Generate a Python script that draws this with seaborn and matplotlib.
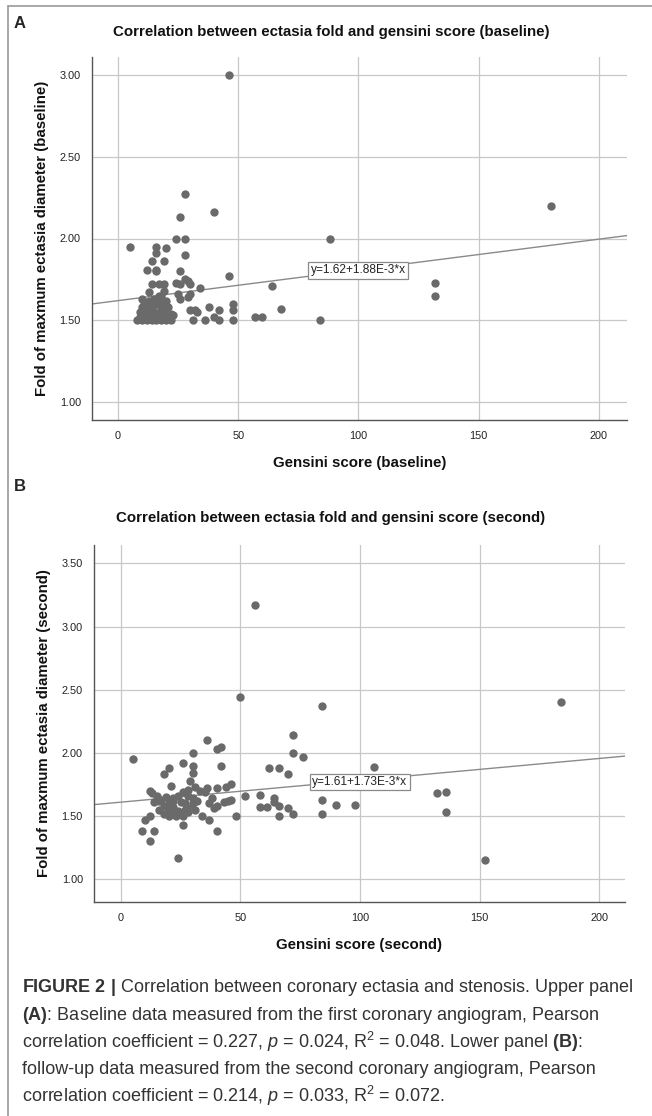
import numpy as np
import pandas as pd
import matplotlib
matplotlib.use("Agg")
import matplotlib.pyplot as plt
import seaborn as sns

# ---------------------------
# Datos
# ---------------------------
gensini_base = [46, 28, 26, 40, 5, 16, 16, 20, 24, 28, 28, 14, 19, 12, 16, 16, 26, 28, 29, 24,
                26, 30, 14, 17, 19, 34, 46, 88, 64, 68, 57, 60, 84, 180, 132, 132, 48, 48, 48, 42,
                42, 38, 40, 36, 31, 32, 30, 33, 29, 26, 25, 13, 10, 19, 18, 30,
                8, 9, 10, 10, 10, 11, 11, 12, 12, 13, 13, 14, 14, 15, 15, 16, 16, 17, 17, 18,
                18, 19, 19, 20, 20, 21, 22, 22, 23, 21, 9, 12, 15, 17, 20]
fold_base = [3.00, 2.27, 2.13, 2.16, 1.95, 1.95, 1.91, 1.94, 2.00, 2.00, 1.90, 1.86, 1.86, 1.81, 1.81,
             1.80, 1.80, 1.75, 1.74, 1.73, 1.72, 1.72, 1.72, 1.72, 1.72, 1.70, 1.77, 2.00, 1.71, 1.57,
             1.52, 1.52, 1.50, 2.20, 1.73, 1.65, 1.60, 1.56, 1.50, 1.56, 1.50, 1.58, 1.52, 1.50, 1.50,
             1.56, 1.56, 1.55, 1.64, 1.63, 1.66, 1.67, 1.63, 1.68, 1.65, 1.66,
             1.50, 1.52, 1.50, 1.55, 1.58, 1.60, 1.52, 1.50, 1.56, 1.53, 1.62, 1.50, 1.58, 1.55, 1.52,
             1.50, 1.60, 1.54, 1.62, 1.50, 1.57, 1.52, 1.60, 1.50, 1.55, 1.52, 1.50, 1.54, 1.53, 1.58,
             1.55, 1.60, 1.63, 1.65, 1.62]

gensini_second = [5, 36, 40, 42, 30, 26, 30, 42, 20, 18, 30, 29, 21, 31, 40, 44, 46, 36, 26, 28,
                  24, 12, 15, 19, 13, 17, 22, 14, 20,
                  52, 58, 64, 64, 66, 58, 61, 70, 72, 66, 48, 84, 84, 90, 98, 132, 136, 136, 152, 106,
                  184, 84, 50, 56, 72, 72, 76, 62, 66, 70,
                  24, 12, 9, 14, 10, 12, 26, 37, 40,
                  43, 45, 46, 37, 38, 39, 40, 33, 35,
                  16, 18, 18, 20, 20, 21, 22, 23, 24, 25, 26, 27, 28, 29, 30, 31, 32, 34, 27, 16,
                  22, 25, 28, 30]
fold_second = [1.95, 2.10, 2.03, 2.05, 2.00, 1.92, 1.90, 1.90, 1.88, 1.83, 1.84, 1.78, 1.74, 1.73, 1.72,
               1.73, 1.75, 1.72, 1.69, 1.71, 1.66, 1.70, 1.66, 1.65, 1.68, 1.63, 1.62, 1.61, 1.60,
               1.66, 1.67, 1.64, 1.61, 1.58, 1.57, 1.57, 1.56, 1.52, 1.50, 1.50, 1.63, 1.52, 1.59, 1.59,
               1.68, 1.69, 1.53, 1.15, 1.89, 2.40, 2.37, 2.44, 3.17, 2.14, 2.00, 1.97, 1.88, 1.88, 1.83,
               1.17, 1.30, 1.38, 1.38, 1.47, 1.50, 1.43, 1.47, 1.38,
               1.61, 1.62, 1.63, 1.60, 1.64, 1.56, 1.58, 1.70, 1.69,
               1.55, 1.52, 1.58, 1.50, 1.55, 1.53, 1.57, 1.50, 1.54, 1.52, 1.50, 1.55, 1.53, 1.56,
               1.60, 1.55, 1.62, 1.50, 1.60, 1.62, 1.64, 1.61, 1.66, 1.64]

# rectas de ajuste indicadas en la figura
fit_base = (1.62, 1.88e-3)
fit_second = (1.61, 1.73e-3)
fit_label_base = "y=1.62+1.88E-3*x"
fit_label_second = "y=1.61+1.73E-3*x"

x_ticks = [0, 50, 100, 150, 200]
y_ticks_base = [1.00, 1.50, 2.00, 2.50, 3.00]
y_ticks_second = [1.00, 1.50, 2.00, 2.50, 3.00, 3.50]

sns.set_style("white")
plt.rcParams['font.family'] = ['Liberation Sans', 'DejaVu Sans']
plt.rcParams['mathtext.fontset'] = 'custom'
plt.rcParams['mathtext.rm'] = 'Liberation Sans'
plt.rcParams['mathtext.it'] = 'Liberation Sans:italic'
plt.rcParams['mathtext.bf'] = 'Liberation Sans:bold'

fig = plt.figure(figsize=(6.52, 11.16), dpi=100)

W, H = 652, 1116


def px_axes(left, top, right, bottom):
    return fig.add_axes([left / W, 1 - bottom / H, (right - left) / W, (bottom - top) / H])


def panel(ax, x, y, fit, label, label_pos, xlim, ylim, yticks, xlabel, ylabel):
    df = pd.DataFrame({'x': x, 'y': y})
    sns.scatterplot(data=df, x='x', y='y', ax=ax, color='#6a6a6a', s=36, linewidth=0, zorder=3)
    ax.axline((0, fit[0]), slope=fit[1], color='#8a8a8a', lw=1.0, zorder=2)
    ax.text(label_pos[0], label_pos[1], label, fontsize=8.6, ha='center', va='center', color='#222',
            bbox=dict(boxstyle='square,pad=0.2', fc='white', ec='#8a8a8a', lw=0.9), zorder=4)
    ax.set_xlim(*xlim)
    ax.set_ylim(*ylim)
    ax.set_xticks(x_ticks)
    ax.set_yticks(yticks)
    ax.set_yticklabels([f"{v:.2f}" for v in yticks])
    ax.grid(True, color='#c8c8c8', lw=0.9)
    ax.set_axisbelow(True)
    for s in ['top', 'right']:
        ax.spines[s].set_visible(False)
    for s in ['left', 'bottom']:
        ax.spines[s].set_color('#555555')
        ax.spines[s].set_linewidth(1.0)
    ax.tick_params(length=0, labelsize=7.8, colors='#222', pad=8)
    ax.set_xlabel(xlabel, fontsize=10.8, fontweight='bold', color='#111', labelpad=11)
    ax.set_ylabel(ylabel, fontsize=10.8, fontweight='bold', color='#111', labelpad=8)


ax1 = px_axes(92, 57, 627, 420)
panel(ax1, gensini_base, fold_base, fit_base, fit_label_base, (100, 1.806),
      (-10.8, 211.7), (0.89, 3.11), y_ticks_base,
      "Gensini score (baseline)", "Fold of maxmum ectasia diameter (baseline)")

ax2 = px_axes(94, 545, 625, 902)
panel(ax2, gensini_second, fold_second, fit_second, fit_label_second, (99.8, 1.77),
      (-11.2, 210.7), (0.82, 3.645), y_ticks_second,
      "Gensini score (second)", "Fold of maxmum ectasia diameter (second)")

fig.text(331 / W, 1 - 32 / H, "Correlation between ectasia fold and gensini score (baseline)",
         fontsize=10.8, fontweight='bold', color='#111', ha='center', va='center')
fig.text(331 / W, 1 - 518 / H, "Correlation between ectasia fold and gensini score (second)",
         fontsize=10.8, fontweight='bold', color='#111', ha='center', va='center')

fig.text(14 / W, 1 - 24 / H, "A", fontsize=12, fontweight='bold', va='center')
fig.text(14 / W, 1 - 486 / H, "B", fontsize=12, fontweight='bold', va='center')

# marco
fig.add_artist(plt.Line2D([8 / W, 1], [1 - 6 / H, 1 - 6 / H], color='#999', lw=1.2))
fig.add_artist(plt.Line2D([8 / W, 8 / W], [0, 1 - 6 / H], color='#999', lw=1.2))

caption = [
    r"$\mathbf{FIGURE\ 2\ |}$ Correlation between coronary ectasia and stenosis. Upper panel",
    r"$\mathbf{(A)}$: Baseline data measured from the first coronary angiogram, Pearson",
    r"correlation coefficient = 0.227, $\mathit{p}$ = 0.024, R$^2$ = 0.048. Lower panel $\mathbf{(B)}$:",
    r"follow-up data measured from the second coronary angiogram, Pearson",
    r"correlation coefficient = 0.214, $\mathit{p}$ = 0.033, R$^2$ = 0.072.",
]
for i, line in enumerate(caption):
    fig.text(22 / W, 1 - (988 + i * 27) / H, line, fontsize=13, color='#333', va='center')

fig.savefig("out.png", dpi=100)
